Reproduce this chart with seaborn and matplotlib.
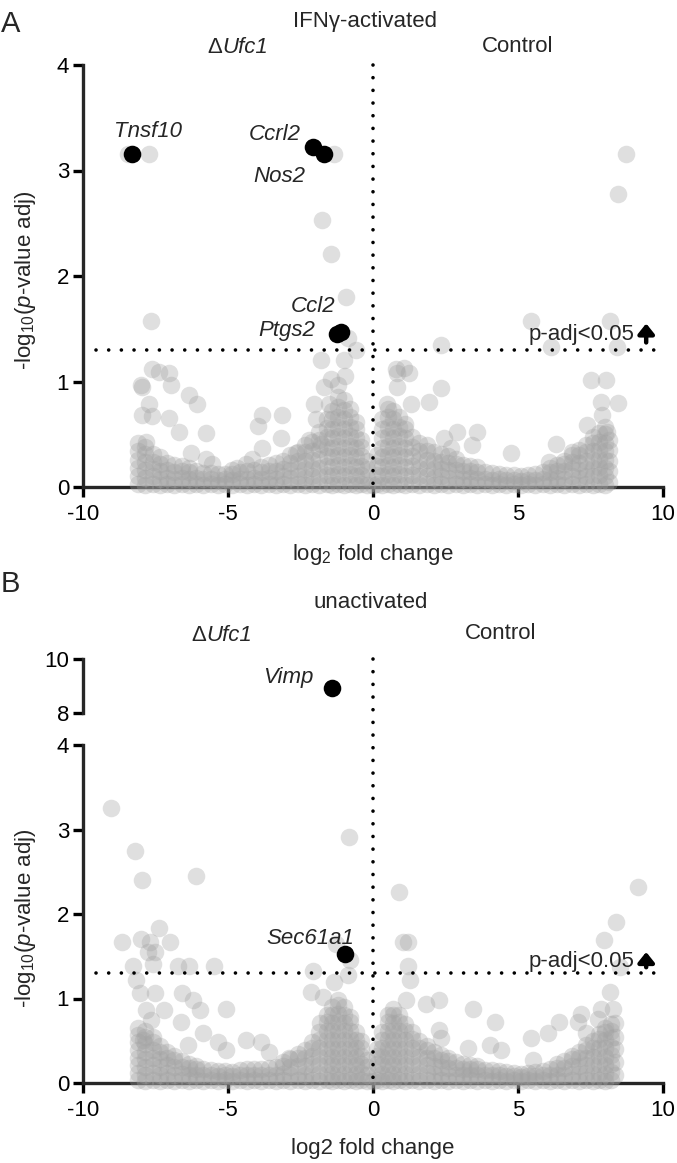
import matplotlib
matplotlib.use("Agg")
import matplotlib.pyplot as plt
import seaborn as sns
import pandas as pd

sns.set_style("ticks")
plt.rcParams["font.family"] = ["Liberation Sans", "DejaVu Sans"]
plt.rcParams["mathtext.fontset"] = "custom"
plt.rcParams["mathtext.rm"] = "Liberation Sans"
plt.rcParams["mathtext.it"] = "Liberation Sans:italic"
plt.rcParams["mathtext.default"] = "regular"
plt.rcParams["axes.unicode_minus"] = False

# ---------------- panel A : IFNg-activated ----------------
hits_a_gene = ["Tnsf10", "Ccrl2", "Nos2", "Ccl2", "Ptgs2"]
hits_a_x = [-8.31, -2.07, -1.69, -1.11, -1.25]
hits_a_y = [3.16, 3.22, 3.16, 1.47, 1.45]

out_a = [(-8.45, 3.16), (-7.72, 3.16), (-1.34, 3.16), (-1.75, 2.53), (-1.44, 2.21),
         (-0.92, 1.80), (-0.85, 1.41), (-0.60, 1.30), (-1.78, 1.20), (-1.00, 1.20),
         (0.78, 1.12), (1.07, 1.13), (8.71, 3.16), (8.46, 2.78), (5.44, 1.57),
         (8.17, 1.57), (6.13, 1.33), (8.43, 1.33), (2.36, 1.35), (7.50, 1.01),
         (8.05, 1.01), (7.85, 0.81), (8.46, 0.80), (7.90, 0.68), (7.38, 0.59),
         (8.08, 0.52), (0.84, 1.08), (1.24, 1.08), (0.84, 0.95), (2.33, 0.94),
         (1.93, 0.81), (1.30, 0.79), (0.49, 0.79), (2.91, 0.52), (3.60, 0.52),
         (2.45, 0.46), (2.68, 0.37), (3.42, 0.40), (4.75, 0.32), (6.30, 0.41),
         (6.87, 0.33), (6.07, 0.24), (-7.67, 1.57), (-8.01, 0.97), (-7.98, 0.95),
         (-7.61, 1.12), (-7.38, 1.09), (-7.03, 1.08), (-6.98, 0.97), (-7.72, 0.79),
         (-7.95, 0.68), (-7.61, 0.67), (-7.03, 0.65), (-6.69, 0.52), (-7.84, 0.43),
         (-6.34, 0.87), (-6.06, 0.79), (-5.77, 0.51), (-3.82, 0.68), (-3.95, 0.58),
         (-3.13, 0.68), (-3.18, 0.46), (-3.84, 0.37), (-6.29, 0.32), (-2.67, 0.32),
         (-2.21, 0.45), (-2.03, 0.79), (-1.98, 0.64), (-1.69, 0.95), (-1.52, 0.79),
         (-1.80, 0.41), (-5.54, 0.22), (-4.39, 0.22), (-4.85, 0.16), (-5.77, 0.27),
         (-4.16, 0.27), (-4.68, 0.18), (-1.20, 0.97), (-0.95, 1.05), (-1.45, 1.02)]

# dense cloud near the x axis: (log2FC, [-log10 p values])
bulk_a = [
    (-8.1, [0.03, 0.10, 0.18, 0.26, 0.34, 0.42]),
    (-7.85, [0.02, 0.09, 0.16, 0.24, 0.31, 0.38]),
    (-7.6, [0.03, 0.10, 0.17, 0.24, 0.31]),
    (-7.35, [0.02, 0.08, 0.15, 0.22, 0.28]),
    (-7.1, [0.03, 0.09, 0.16, 0.23]),
    (-6.85, [0.02, 0.08, 0.14, 0.21]),
    (-6.6, [0.03, 0.09, 0.15, 0.20]),
    (-6.35, [0.02, 0.08, 0.14, 0.18]),
    (-6.1, [0.03, 0.09, 0.15]),
    (-5.85, [0.02, 0.08, 0.13]),
    (-5.6, [0.03, 0.08, 0.13]),
    (-5.35, [0.02, 0.07, 0.12]),
    (-5.1, [0.03, 0.08, 0.12]),
    (-4.85, [0.02, 0.07, 0.12]),
    (-4.6, [0.03, 0.08, 0.14]),
    (-4.35, [0.02, 0.08, 0.15]),
    (-4.1, [0.03, 0.09, 0.16]),
    (-3.85, [0.02, 0.08, 0.14, 0.19]),
    (-3.6, [0.03, 0.09, 0.15, 0.21]),
    (-3.35, [0.02, 0.08, 0.15, 0.23]),
    (-3.1, [0.03, 0.10, 0.17, 0.25]),
    (-2.85, [0.02, 0.09, 0.16, 0.23, 0.30]),
    (-2.6, [0.03, 0.10, 0.17, 0.25, 0.33]),
    (-2.35, [0.02, 0.09, 0.17, 0.25, 0.33, 0.40]),
    (-2.1, [0.03, 0.10, 0.18, 0.26, 0.34, 0.43]),
    (-1.85, [0.02, 0.10, 0.18, 0.27, 0.36, 0.45, 0.52]),
    (-1.6, [0.03, 0.11, 0.20, 0.29, 0.38, 0.47, 0.56, 0.64]),
    (-1.4, [0.02, 0.10, 0.19, 0.28, 0.37, 0.46, 0.55, 0.64, 0.72]),
    (-1.2, [0.03, 0.12, 0.21, 0.30, 0.39, 0.48, 0.57, 0.66, 0.76, 0.85]),
    (-1.0, [0.02, 0.10, 0.19, 0.28, 0.37, 0.46, 0.55, 0.64, 0.73, 0.82]),
    (-0.8, [0.03, 0.12, 0.21, 0.30, 0.39, 0.48, 0.57, 0.66, 0.74]),
    (-0.6, [0.02, 0.10, 0.19, 0.28, 0.37, 0.46, 0.55, 0.62]),
    (-0.4, [0.03, 0.11, 0.20, 0.29, 0.38, 0.45]),
    (-0.2, [0.02, 0.09, 0.17, 0.25]),
    (0.0, [0.02]),
    (0.15, [0.03, 0.11, 0.20, 0.30]),
    (0.3, [0.02, 0.10, 0.19, 0.28, 0.37, 0.46, 0.55, 0.64]),
    (0.5, [0.03, 0.12, 0.21, 0.30, 0.39, 0.48, 0.57, 0.66, 0.74]),
    (0.7, [0.02, 0.10, 0.19, 0.28, 0.37, 0.46, 0.55, 0.64, 0.72]),
    (0.9, [0.03, 0.12, 0.21, 0.30, 0.39, 0.48, 0.57, 0.66]),
    (1.1, [0.02, 0.10, 0.19, 0.28, 0.37, 0.46, 0.55, 0.60]),
    (1.35, [0.03, 0.11, 0.20, 0.29, 0.38, 0.47]),
    (1.6, [0.02, 0.10, 0.18, 0.26, 0.34, 0.42]),
    (1.85, [0.03, 0.10, 0.18, 0.26, 0.34, 0.40]),
    (2.1, [0.02, 0.09, 0.17, 0.25, 0.33]),
    (2.35, [0.03, 0.10, 0.17, 0.24, 0.31]),
    (2.6, [0.02, 0.09, 0.16, 0.23, 0.29]),
    (2.85, [0.03, 0.09, 0.16, 0.22, 0.27]),
    (3.1, [0.02, 0.08, 0.15, 0.21]),
    (3.35, [0.03, 0.09, 0.15, 0.20]),
    (3.6, [0.02, 0.08, 0.14, 0.19]),
    (3.85, [0.03, 0.08, 0.14]),
    (4.1, [0.02, 0.07, 0.13]),
    (4.35, [0.03, 0.08, 0.12]),
    (4.6, [0.02, 0.07, 0.11]),
    (4.85, [0.03, 0.07, 0.11]),
    (5.1, [0.02, 0.06, 0.10]),
    (5.35, [0.03, 0.07, 0.11]),
    (5.6, [0.02, 0.07, 0.12]),
    (5.85, [0.03, 0.08, 0.14]),
    (6.1, [0.02, 0.08, 0.14, 0.18]),
    (6.35, [0.03, 0.09, 0.15, 0.21]),
    (6.6, [0.02, 0.08, 0.15, 0.22, 0.25]),
    (6.85, [0.03, 0.10, 0.17, 0.24, 0.30]),
    (7.1, [0.02, 0.09, 0.16, 0.23, 0.30, 0.35]),
    (7.35, [0.03, 0.10, 0.17, 0.25, 0.33, 0.40]),
    (7.6, [0.02, 0.10, 0.18, 0.26, 0.34, 0.42, 0.47]),
    (7.8, [0.03, 0.11, 0.19, 0.27, 0.35, 0.43, 0.51]),
    (8.0, [0.02, 0.10, 0.18, 0.26, 0.34, 0.42, 0.50, 0.57]),
    (8.15, [0.05, 0.15, 0.25, 0.35, 0.45]),
]

# ---------------- panel B : unactivated ----------------
hits_b_gene = ["Vimp", "Sec61a1"]
hits_b_x = [-1.42, -0.98]
hits_b_y = [8.91, 1.53]

out_b = [(-9.03, 3.25), (-8.22, 2.75), (-7.96, 2.40), (-6.10, 2.45), (-8.66, 1.67),
         (-7.99, 1.71), (-7.38, 1.83), (-6.99, 1.67), (-7.70, 1.67), (-7.76, 1.55),
         (-7.53, 1.55), (-7.59, 1.41), (-8.28, 1.39), (-8.17, 1.22), (-8.05, 1.06),
         (-7.53, 1.06), (-6.73, 1.39), (-6.33, 1.39), (-5.47, 1.39), (-6.58, 1.07),
         (-6.21, 0.98), (-5.98, 0.86), (-5.06, 0.88), (-7.82, 0.86), (-7.19, 0.86),
         (-7.65, 0.74), (-6.61, 0.72), (-7.94, 0.51), (-5.87, 0.59), (-5.35, 0.49),
         (-4.37, 0.51), (-3.86, 0.49), (-5.06, 0.39), (-3.57, 0.37), (-6.39, 0.45),
         (-2.08, 1.32), (-2.13, 1.08), (-1.73, 1.02), (-1.27, 1.65), (-1.33, 1.20),
         (-1.84, 0.71), (-2.88, 0.29), (-0.83, 2.91), (0.91, 2.26), (1.05, 1.67),
         (1.19, 1.67), (-0.81, 1.45), (-0.87, 1.28), (1.20, 1.39), (1.26, 1.22),
         (1.83, 0.94), (2.29, 0.98), (1.14, 0.98), (3.44, 0.88), (4.19, 0.72),
         (2.29, 0.63), (2.35, 0.53), (3.27, 0.41), (4.02, 0.45), (4.42, 0.39),
         (5.45, 0.53), (6.03, 0.59), (6.43, 0.72), (7.06, 0.72), (7.18, 0.82),
         (9.13, 2.32), (8.39, 1.91), (7.95, 1.69), (8.50, 1.37), (8.16, 1.08),
         (7.87, 0.88), (8.27, 0.88), (7.75, 0.76), (8.33, 0.71), (7.35, 0.59),
         (5.51, 0.27)]

bulk_b = [
    (-8.1, [0.03, 0.12, 0.21, 0.30, 0.39, 0.48, 0.57, 0.65]),
    (-7.85, [0.02, 0.10, 0.19, 0.28, 0.37, 0.46, 0.55, 0.62]),
    (-7.6, [0.03, 0.12, 0.21, 0.30, 0.39, 0.48, 0.55]),
    (-7.35, [0.02, 0.10, 0.19, 0.28, 0.37, 0.44]),
    (-7.1, [0.03, 0.12, 0.21, 0.30, 0.37]),
    (-6.85, [0.02, 0.10, 0.19, 0.27, 0.32]),
    (-6.6, [0.03, 0.11, 0.19, 0.26]),
    (-6.35, [0.02, 0.10, 0.18, 0.23]),
    (-6.1, [0.03, 0.10, 0.17, 0.20]),
    (-5.85, [0.02, 0.09, 0.16]),
    (-5.6, [0.03, 0.09, 0.15]),
    (-5.35, [0.02, 0.08, 0.14]),
    (-5.1, [0.03, 0.09, 0.14]),
    (-4.85, [0.02, 0.08, 0.13]),
    (-4.6, [0.03, 0.09, 0.15]),
    (-4.35, [0.02, 0.09, 0.16]),
    (-4.1, [0.03, 0.10, 0.17]),
    (-3.85, [0.02, 0.09, 0.17]),
    (-3.6, [0.03, 0.10, 0.18]),
    (-3.35, [0.02, 0.10, 0.19]),
    (-3.1, [0.03, 0.11, 0.20, 0.25]),
    (-2.85, [0.02, 0.10, 0.19, 0.28]),
    (-2.6, [0.03, 0.11, 0.20, 0.29, 0.34]),
    (-2.35, [0.02, 0.10, 0.20, 0.30, 0.39]),
    (-2.1, [0.03, 0.12, 0.22, 0.32, 0.42, 0.48]),
    (-1.85, [0.02, 0.11, 0.21, 0.31, 0.41, 0.51, 0.60]),
    (-1.6, [0.03, 0.12, 0.22, 0.32, 0.42, 0.52, 0.62, 0.72, 0.80]),
    (-1.4, [0.02, 0.11, 0.21, 0.31, 0.41, 0.51, 0.61, 0.71, 0.81, 0.90]),
    (-1.2, [0.03, 0.12, 0.22, 0.32, 0.42, 0.52, 0.62, 0.72, 0.82, 0.92, 0.98]),
    (-1.0, [0.02, 0.11, 0.21, 0.31, 0.41, 0.51, 0.61, 0.71, 0.81, 0.90]),
    (-0.8, [0.03, 0.12, 0.22, 0.32, 0.42, 0.52, 0.62, 0.72, 0.78]),
    (-0.6, [0.02, 0.11, 0.21, 0.31, 0.41, 0.51, 0.60]),
    (-0.4, [0.03, 0.12, 0.22, 0.32, 0.42, 0.50]),
    (-0.2, [0.02, 0.10, 0.19, 0.27]),
    (0.0, [0.02]),
    (0.15, [0.03, 0.12, 0.22, 0.32, 0.40]),
    (0.3, [0.02, 0.11, 0.21, 0.31, 0.41, 0.51, 0.60]),
    (0.5, [0.03, 0.12, 0.22, 0.32, 0.42, 0.52, 0.62, 0.72, 0.80]),
    (0.7, [0.02, 0.11, 0.21, 0.31, 0.41, 0.51, 0.61, 0.71, 0.81, 0.88]),
    (0.9, [0.03, 0.12, 0.22, 0.32, 0.42, 0.52, 0.62, 0.72, 0.80]),
    (1.1, [0.02, 0.11, 0.21, 0.31, 0.41, 0.51, 0.61, 0.70]),
    (1.35, [0.03, 0.12, 0.22, 0.32, 0.42, 0.52, 0.60]),
    (1.6, [0.02, 0.11, 0.21, 0.31, 0.41, 0.50]),
    (1.85, [0.03, 0.12, 0.21, 0.30, 0.39, 0.44]),
    (2.1, [0.02, 0.11, 0.20, 0.29, 0.37]),
    (2.35, [0.03, 0.11, 0.19, 0.27, 0.33]),
    (2.6, [0.02, 0.10, 0.18, 0.26, 0.30]),
    (2.85, [0.03, 0.10, 0.18, 0.25]),
    (3.1, [0.02, 0.10, 0.17, 0.23]),
    (3.35, [0.03, 0.10, 0.17, 0.21]),
    (3.6, [0.02, 0.09, 0.16, 0.20]),
    (3.85, [0.03, 0.09, 0.15]),
    (4.1, [0.02, 0.09, 0.15]),
    (4.35, [0.03, 0.09, 0.14]),
    (4.6, [0.02, 0.08, 0.13]),
    (4.85, [0.03, 0.08, 0.12]),
    (5.1, [0.02, 0.07, 0.11]),
    (5.35, [0.03, 0.08, 0.12]),
    (5.6, [0.02, 0.08, 0.13]),
    (5.85, [0.03, 0.09, 0.14]),
    (6.1, [0.02, 0.09, 0.16]),
    (6.35, [0.03, 0.10, 0.18, 0.22]),
    (6.6, [0.02, 0.10, 0.18, 0.26]),
    (6.85, [0.03, 0.11, 0.20, 0.28, 0.32]),
    (7.1, [0.02, 0.11, 0.20, 0.29, 0.37]),
    (7.35, [0.03, 0.12, 0.21, 0.30, 0.39, 0.45]),
    (7.6, [0.02, 0.11, 0.21, 0.31, 0.41, 0.50]),
    (7.8, [0.03, 0.12, 0.22, 0.32, 0.42, 0.52, 0.58]),
    (8.0, [0.02, 0.11, 0.21, 0.31, 0.41, 0.51, 0.60, 0.65]),
    (8.2, [0.03, 0.13, 0.23, 0.33, 0.43, 0.53, 0.62, 0.70]),
    (8.35, [0.10, 0.25, 0.40, 0.55]),
]

GREY = "#a2a2a2"
W, H = 677, 1163
DOT = (0, (0.01, 3.5))


def to_frame(bulk, outliers):
    xs = [c for c, ys in bulk for _ in ys] + [p[0] for p in outliers]
    ys = [v for _, vals in bulk for v in vals] + [p[1] for p in outliers]
    return pd.DataFrame({"log2fc": xs, "nlogp": ys})


def fx(px):
    return px / W


def fy(py):
    return 1 - py / H


def style(ax, lo, hi, ticks, xaxis=True):
    ax.spines[["top", "right"]].set_visible(False)
    ax.set_ylim(lo, hi)
    ax.set_xlim(-10, 10)
    ax.set_yticks(ticks)
    ax.spines["left"].set_bounds(lo, hi)
    ax.spines["left"].set_linewidth(2.4)
    ax.spines["left"].set_capstyle("projecting")
    ax.tick_params(axis="y", width=2.4, length=7, labelsize=16, pad=3, colors="black")
    if xaxis:
        ax.spines["bottom"].set_linewidth(2.4)
        ax.spines["bottom"].set_capstyle("projecting")
        ax.set_xticks([-10, -5, 0, 5, 10])
        ax.tick_params(axis="x", width=2.4, length=7, labelsize=16, pad=5, colors="black")
    else:
        ax.spines["bottom"].set_visible(False)
        ax.set_xticks([])
    ax.set_xlabel("")
    ax.set_ylabel("")
    ax.set_facecolor("none")


def scatter(ax, df, black=False):
    sns.scatterplot(data=df, x="log2fc", y="nlogp", ax=ax,
                    color="black" if black else GREY,
                    alpha=1.0 if black else 0.34, s=160, linewidth=0,
                    clip_on=False, zorder=3, legend=False)


def threshold(ax, y_text):
    ax.plot([-9.55, 9.7], [1.3, 1.3], color="black", lw=2.6, linestyle=DOT,
            dash_capstyle="round", zorder=6, clip_on=False)
    ax.text(9.0, y_text, "p-adj<0.05", fontsize=16, ha="right", va="baseline", zorder=7)
    ax.annotate("", xy=(9.42, 1.55), xytext=(9.42, 1.37),
                arrowprops=dict(arrowstyle="-|>,head_width=0.24,head_length=0.3",
                                lw=3.2, color="black", mutation_scale=20,
                                shrinkA=0, shrinkB=0), zorder=7)


def delta_label(xc, yb):
    # "Δ" upright followed by the italic gene name, centred on xc (pixels)
    r = fig.canvas.get_renderer()
    t1 = fig.text(0, fy(yb), "Δ", fontsize=16, va="baseline")
    t2 = fig.text(0, fy(yb), "Ufc1", fontsize=16, style="italic", va="baseline")
    w1 = t1.get_window_extent(r).width
    w2 = t2.get_window_extent(r).width
    left = xc - (w1 + w2) / 2
    t1.set_x(fx(left))
    t2.set_x(fx(left + w1))


fig = plt.figure(figsize=(W / 100, H / 100), dpi=100)

# ---------- A ----------
axA = fig.add_axes([fx(83), fy(487), fx(663) - fx(83), fy(65) - fy(487)])
df_a = to_frame(bulk_a, out_a)
hits_a = pd.DataFrame({"log2fc": hits_a_x, "nlogp": hits_a_y, "gene": hits_a_gene})
scatter(axA, df_a)
scatter(axA, hits_a, black=True)
style(axA, 0, 4, [0, 1, 2, 3, 4])
axA.plot([0, 0], [4, 0], color="black", lw=2.6, linestyle=DOT,
         dash_capstyle="round", zorder=6, clip_on=False)
threshold(axA, 1.39)
lab_a = {"Tnsf10": (-7.76, 3.32), "Ccrl2": (-3.38, 3.29), "Nos2": (-3.22, 2.89),
         "Ccl2": (-2.07, 1.66), "Ptgs2": (-2.98, 1.43)}
for g, (tx, ty) in lab_a.items():
    axA.text(tx, ty, g, fontsize=16, style="italic", ha="center", va="baseline", zorder=7)

fig.text(fx(1), fy(32), "A", fontsize=21, ha="left", va="baseline")
fig.text(fx(365), fy(27), "IFNγ-activated", fontsize=16, ha="center", va="baseline")
delta_label(238, 53)
fig.text(fx(518), fy(52), "Control", fontsize=16, ha="center", va="baseline")
fig.text(fx(373), fy(560), r"log$_2$ fold change", fontsize=16, ha="center", va="baseline")
fig.text(fx(26), fy(280), r"-log$_{10}$($\mathit{p}$-value adj)", fontsize=16,
         rotation=90, ha="center", va="center")

# ---------- B ----------
axBu = fig.add_axes([fx(83), fy(713), fx(663) - fx(83), fy(659) - fy(713)])
axB = fig.add_axes([fx(83), fy(1083), fx(663) - fx(83), fy(745) - fy(1083)])
df_b = to_frame(bulk_b, out_b)
hits_b = pd.DataFrame({"log2fc": hits_b_x, "nlogp": hits_b_y, "gene": hits_b_gene})
scatter(axB, df_b)
scatter(axB, hits_b[hits_b["nlogp"] < 4], black=True)
scatter(axBu, hits_b[hits_b["nlogp"] > 8], black=True)
style(axB, 0, 4, [0, 1, 2, 3, 4])
style(axBu, 8, 10, [8, 10], xaxis=False)

# vertical dotted line running through both segments of the broken axis
top_disp = axBu.transAxes.transform((0, 1))[1]
top_low = axB.transData.inverted().transform((0, top_disp))[1]
axB.plot([0, 0], [top_low, 0], color="black", lw=2.6, linestyle=DOT,
         dash_capstyle="round", zorder=6, clip_on=False)
threshold(axB, 1.375)
axBu.text(-2.91, 9.11, "Vimp", fontsize=16, style="italic", ha="center", va="baseline")
axB.text(-2.16, 1.64, "Sec61a1", fontsize=16, style="italic", ha="center", va="baseline", zorder=7)

fig.text(fx(1), fy(592), "B", fontsize=21, ha="left", va="baseline")
fig.text(fx(371), fy(608), "unactivated", fontsize=16, ha="center", va="baseline")
delta_label(222, 641)
fig.text(fx(501), fy(639), "Control", fontsize=16, ha="center", va="baseline")
fig.text(fx(373), fy(1154), "log2 fold change", fontsize=16, ha="center", va="baseline")
fig.text(fx(26), fy(918), r"-log$_{10}$($\mathit{p}$-value adj)", fontsize=16,
         rotation=90, ha="center", va="center")

fig.savefig("out.png", dpi=100)
